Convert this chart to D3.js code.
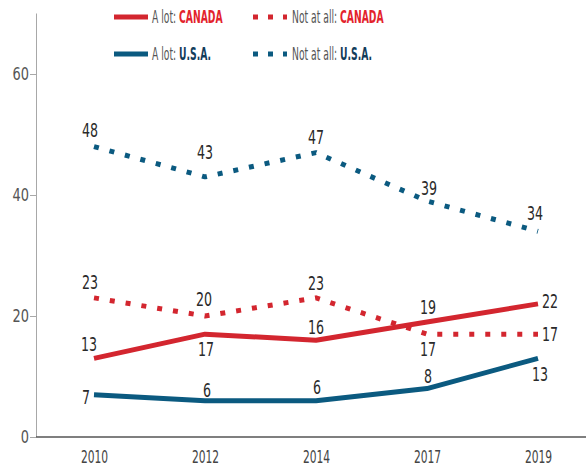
<!DOCTYPE html>
<html>
<head>
<meta charset="utf-8">
<script src="https://cdn.jsdelivr.net/npm/d3@7/dist/d3.min.js"></script>
<style>
  body { margin: 0; background: #fff; }
  svg text { font-family: "DejaVu Sans Condensed", "DejaVu Sans", sans-serif; }
</style>
</head>
<body>
<div id="wrapper"></div>
<script>
var years = ["2010", "2012", "2014", "2017", "2019"];
var yTicks = [0, 20, 40, 60];
var aLotCanada = [13, 17, 16, 19, 22];
var notAtAllCanada = [23, 20, 23, 17, 17];
var aLotUSA = [7, 6, 6, 8, 13];
var notAtAllUSA = [48, 43, 47, 39, 34];

var red = '#d3262f', blue = '#0b5a80';

// label offsets (dx, dy) per point
var series = [
  {values: notAtAllUSA, color: blue, dotted: true,
   off: [[-4,-16],[0,-25],[0,-15],[2,-13],[-3,-18]]},
  {values: notAtAllCanada, color: red, dotted: true,
   off: [[-4,-16],[-1,-17],[0,-15],[1,15],[12,0]]},
  {values: aLotCanada, color: red, dotted: false,
   off: [[-5,-14],[1,15],[0,-13],[1,-15],[12,-3]]},
  {values: aLotUSA, color: blue, dotted: false,
   off: [[-8,3],[2,-11],[1,-14],[1,-12],[2,16]]}
];

var svg = d3.select('#wrapper').append('svg')
  .attr('width', 586).attr('height', 468);

var x = d3.scalePoint().domain(years).range([94, 538]);
var y = d3.scaleLinear().domain([0, 70]).range([437, 13.5]);

// squeeze text horizontally to mimic the condensed face
function squeeze(sel, k, px, py) {
  sel.attr('transform', function(d, i){
      var tx = typeof px === 'function' ? px(d, i) : px;
      var ty = typeof py === 'function' ? py(d, i) : py;
      return 'translate(' + tx + ',' + ty + ') scale(' + k + ',1)';
    })
    .attr('x', 0).attr('y', 0);
}

// y axis
var yAxis = svg.append('g').attr('transform', 'translate(36,0)')
  .call(d3.axisLeft(y).tickValues(yTicks).tickSize(6));
yAxis.select('.domain').attr('stroke', '#a8a8a8').attr('d', 'M0.5,' + y(70) + 'V' + y(0));
yAxis.selectAll('.tick line').attr('stroke', '#a8a8a8');
yAxis.selectAll('.tick text').attr('fill', '#555').style('font-size', '18px')
  .call(squeeze, 0.8, -7, 0);

// x axis
var xAxis = svg.append('g').attr('transform', 'translate(0,437)')
  .call(d3.axisBottom(x).tickSize(0));
xAxis.select('.domain').attr('stroke', '#555').attr('stroke-width', 1.5).attr('d', 'M36,0H586');
xAxis.selectAll('.tick text').attr('fill', '#444').style('font-size', '17px')
  .call(squeeze, 0.7, 0, 14);

var line = d3.line()
  .x(function(d, i){ return x(years[i]); })
  .y(function(d){ return y(d); });

series.forEach(function(s){
  svg.append('path')
    .datum(s.values)
    .attr('d', line)
    .attr('fill', 'none')
    .attr('stroke', s.color)
    .attr('stroke-width', 5)
    .attr('stroke-linejoin', 'round')
    .attr('stroke-dasharray', s.dotted ? '5,11' : null);
});

series.forEach(function(s){
  svg.append('g').selectAll('text')
    .data(s.values)
    .enter().append('text')
    .attr('dy', '0.35em')
    .attr('text-anchor', 'middle')
    .attr('fill', '#2a2a2a')
    .style('font-size', '19.5px')
    .text(function(d){ return d; })
    .call(squeeze, 0.72,
      function(d, i){ return x(years[i]) + s.off[i][0]; },
      function(d, i){ return y(d) + s.off[i][1]; });
});

// legend
var legend = [
  {x: 114, y: 17, color: red, dotted: false, label: 'A lot: ', country: 'CANADA', cc: '#e3232c'},
  {x: 253, y: 17, color: red, dotted: true, label: 'Not at all: ', country: 'CANADA', cc: '#e3232c'},
  {x: 114, y: 54, color: blue, dotted: false, label: 'A lot: ', country: 'U.S.A.', cc: '#123c5a'},
  {x: 253, y: 54, color: blue, dotted: true, label: 'Not at all: ', country: 'U.S.A.', cc: '#123c5a'}
];
var lg = svg.append('g').selectAll('g').data(legend).enter().append('g');
lg.append('line')
  .attr('x1', function(d){ return d.x; })
  .attr('x2', function(d){ return d.x + 34; })
  .attr('y1', function(d){ return d.y; })
  .attr('y2', function(d){ return d.y; })
  .attr('stroke', function(d){ return d.color; })
  .attr('stroke-width', 5)
  .attr('stroke-dasharray', function(d){ return d.dotted ? '5,10' : null; });
var lt = lg.append('text')
  .attr('dy', '0.35em')
  .style('font-size', '18px')
  .call(squeeze, 0.57,
    function(d){ return d.x + (d.dotted ? 39 : 38); },
    function(d){ return d.y; });
lt.append('tspan').attr('fill', '#555').text(function(d){ return d.label; });
lt.append('tspan').attr('fill', function(d){ return d.cc; })
  .attr('font-weight', 'bold').text(function(d){ return d.country; });
</script>
</body>
</html>
